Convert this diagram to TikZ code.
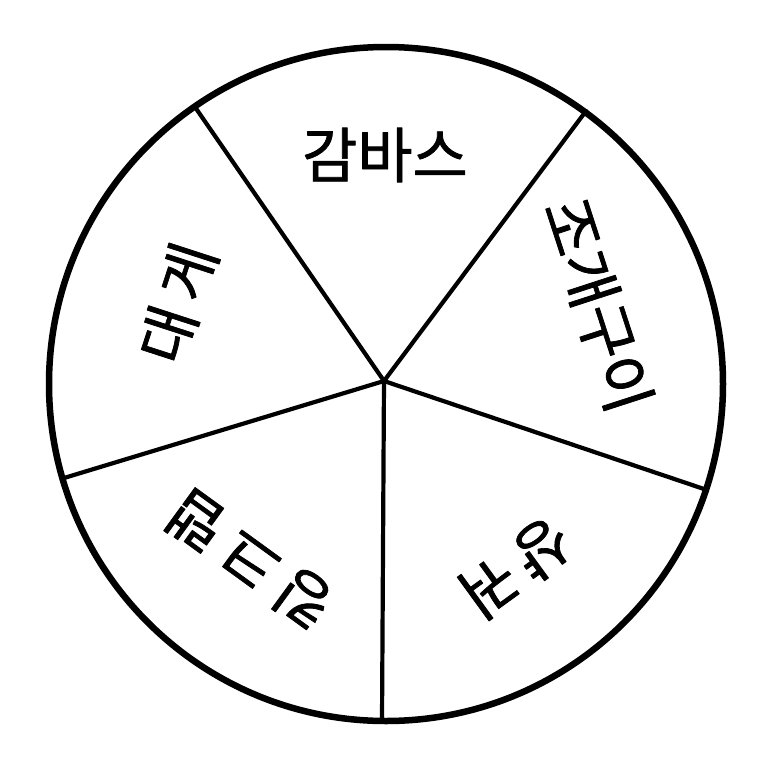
\documentclass[tikz,border=0pt]{standalone}
\usepackage{fontspec}
\newfontfamily\kor[FakeBold=1.2]{Noto Sans CJK KR}
\newfontfamily\korwide[FakeBold=1.2, LetterSpace=18]{Noto Sans CJK KR}
\tikzset{
  every picture/.style={line join=round, line cap=round},
  rim/.style={draw=black, line width=6.5},
  spoke/.style={draw=black, line width=4.2},
  dish/.style={font=\kor\fontsize{60}{66}\selectfont, inner sep=0pt},
  dishwide/.style={font=\korwide\fontsize{60}{66}\selectfont, inner sep=0pt},
}

\begin{document}
\begin{tikzpicture}[x=1pt, y=-1pt]
\useasboundingbox (0,0) rectangle (764,764);
% wheel
\coordinate (hub) at (384,381);
\coordinate (tl) at (195,107);
\coordinate (tr) at (586,111);
\coordinate (rt) at (704,489);
\coordinate (bt) at (382,721);
\coordinate (lf) at (64,478);
\draw[rim] (386,384) circle[radius=337];
\foreach \p in {tl,tr,rt,bt,lf}
  \draw[spoke] (hub) -- (\p);
% dishes
\node[dish] (gambas) at (385,155) {감바스};
\node[dish, rotate=-72] (clams) at (598,305) {조개구이};
\node[dishwide, rotate=-144] (mala) at (516,568) {샹궈};
\node[dishwide, rotate=144] (kingcrab) at (250,560) {킹크랩};
\node[dishwide, rotate=72] (crab) at (178,303) {대게};
\end{tikzpicture}
\end{document}
